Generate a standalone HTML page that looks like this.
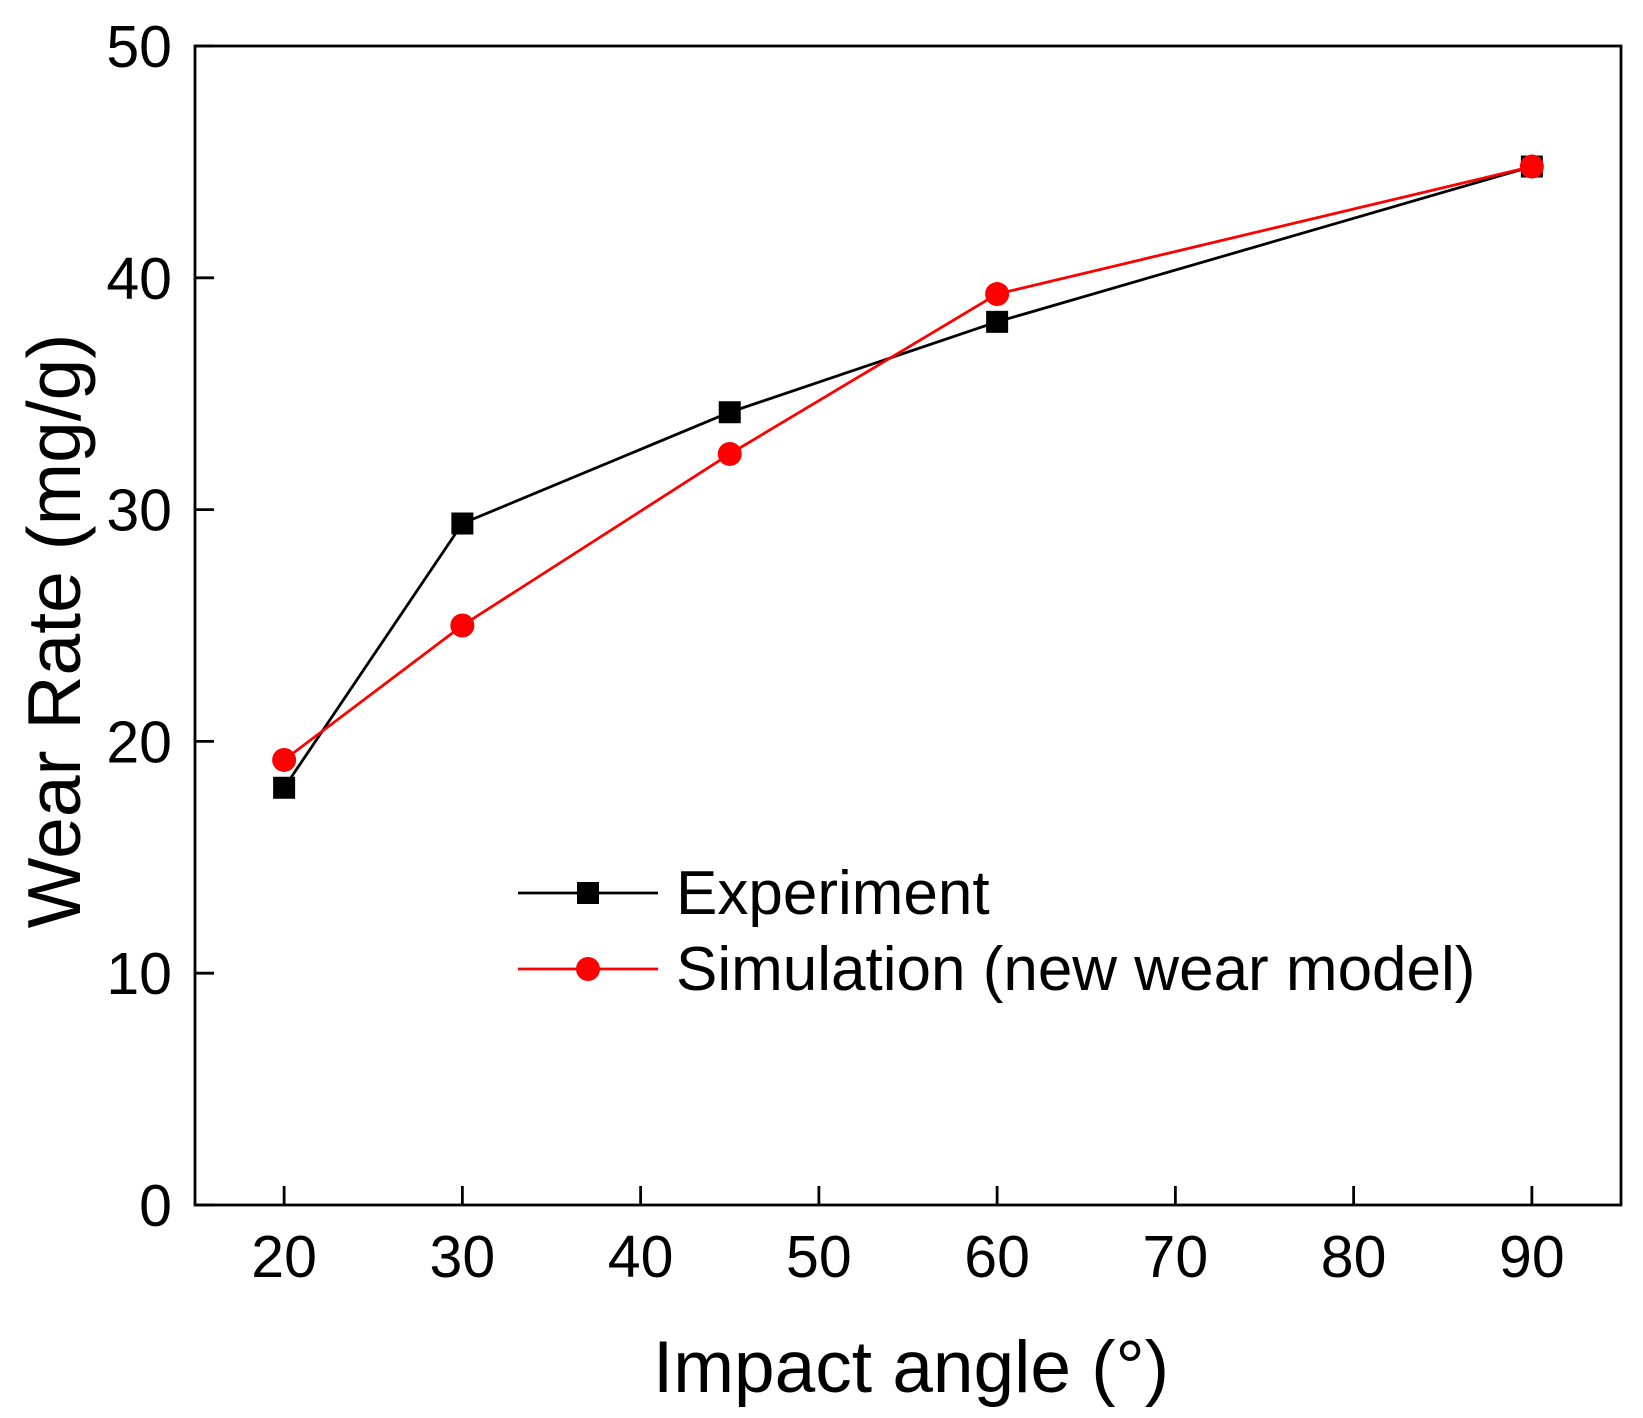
<!DOCTYPE html>
<html><head><meta charset="utf-8"><style>body{margin:0;background:#fff}svg{display:block}text{font-family:"Liberation Sans",Arial,sans-serif;fill:#000}</style></head>
<body>
<svg id="chart" width="1643" height="1418" viewBox="0 0 1643 1418">
<g id="axes"></g><g id="series"></g><g id="legend"></g>
</svg>
<script>
const categories=[20,30,45,60,90];
const experiment=[18.0,29.4,34.2,38.1,44.8];
const simulation=[19.2,25.0,32.4,39.3,44.8];
const xTicks=[20,30,40,50,60,70,80,90];
const yTicks=[0,10,20,30,40,50];
const NS='http://www.w3.org/2000/svg';
const L=195,R=1621,T=46,B=1205;
const xs=v=>L+(v-15)/80*(R-L);
const ys=v=>B-v/50*(B-T);
function mk(tag,attrs,parent,txt){const e=document.createElementNS(NS,tag);for(const k in attrs)e.setAttribute(k,attrs[k]);if(txt!==undefined)e.textContent=txt;parent.appendChild(e);return e;}
const ax=document.getElementById('axes');
let f=mk('rect',{x:L,y:T,width:R-L,height:B-T,fill:'none',stroke:'#000','stroke-width':2.8},ax);

xTicks.forEach(v=>{let t=mk('line',{x1:xs(v),x2:xs(v),y1:B,y2:B-19,stroke:'#000','stroke-width':2.8},ax);

let l=mk('text',{x:xs(v),y:1277,'text-anchor':'middle','font-size':59},ax,v);
});
yTicks.forEach(v=>{let t=mk('line',{x1:L,x2:L+19,y1:ys(v),y2:ys(v),stroke:'#000','stroke-width':2.8},ax);

let l=mk('text',{x:172,y:ys(v)+21,'text-anchor':'end','font-size':59},ax,v);
});
let xt=mk('text',{x:911,y:1392,'text-anchor':'middle','font-size':73},ax,'Impact angle (°)');

let yt=mk('text',{x:0,y:0,'text-anchor':'middle','font-size':75,transform:'translate(80,631) rotate(-90)'},ax,'Wear Rate (mg/g)');

const sg=document.getElementById('series');
function series(vals,color,shape,name){
 let pl=mk('polyline',{points:categories.map((c,i)=>xs(c)+','+ys(vals[i])).join(' '),fill:'none',stroke:color,'stroke-width':2.8},sg);
 
 categories.forEach((c,i)=>{let m;
  if(shape==='sq')m=mk('rect',{x:xs(c)-11,y:ys(vals[i])-11,width:22,height:22,fill:color},sg);
  else m=mk('circle',{cx:xs(c),cy:ys(vals[i]),r:12,fill:color},sg);
  });
}
series(experiment,'#000','sq','experiment');
series(simulation,'#ff0000','ci','simulation');
const lg=document.getElementById('legend');
[['Experiment','#000','sq',893],['Simulation (new wear model)','#ff0000','ci',969]].forEach(([t,c,s,y])=>{
 let ln=mk('line',{x1:518,x2:658,y1:y,y2:y,stroke:c,'stroke-width':2.8},lg);
 
 let m=s==='sq'?mk('rect',{x:577,y:y-11,width:22,height:22,fill:c},lg):mk('circle',{cx:588,cy:y,r:12,fill:c},lg);
 
 let tx=mk('text',{x:676,y:y+21,'font-size':62},lg,t);
 
});
</script>
</body></html>
